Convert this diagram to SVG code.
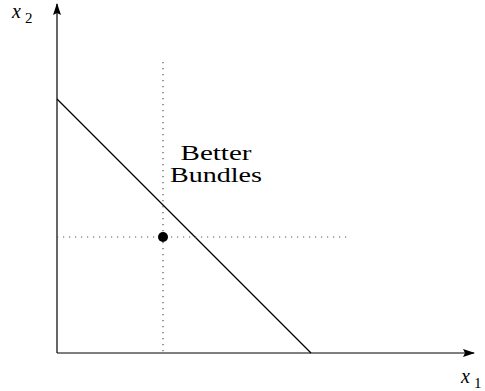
<svg xmlns="http://www.w3.org/2000/svg" width="485" height="391" viewBox="0 0 485 391">
<style>
.ax{stroke:#000;stroke-width:1.2;fill:none}
.dot{stroke:#555;stroke-width:1.2;stroke-dasharray:1.2 4.8;fill:none}
text{font-family:"Liberation Serif","DejaVu Serif",serif;fill:#000}
.m{font-style:italic}
</style>
<defs>
<marker id="ah" viewBox="0 0 12 8" refX="11" refY="4" markerWidth="12" markerHeight="8" markerUnits="userSpaceOnUse" orient="auto">
<path d="M0,0 L12,4 L0,8 L2,4 Z" fill="#000"/>
</marker>
</defs>
<g id="connectors">
<line class="ax" x1="57" y1="353" x2="57" y2="4" marker-end="url(#ah)"/>
<line class="ax" x1="57" y1="353" x2="474" y2="353" marker-end="url(#ah)"/>
<line class="ax" x1="57" y1="99" x2="311" y2="353"/>
<line class="dot" x1="163" y1="62" x2="163" y2="353"/>
<line class="dot" x1="57" y1="237" x2="350" y2="237"/>
</g>
<g id="bundle">
<circle cx="163" cy="237" r="5" fill="#000"/>
</g>
<g id="better-label">
<text x="216" y="160" font-size="20" text-anchor="middle" textLength="71" lengthAdjust="spacingAndGlyphs">Better</text>
<text x="216" y="182" font-size="20" text-anchor="middle" textLength="92" lengthAdjust="spacingAndGlyphs">Bundles</text>
</g>
<g id="x2-label">
<text class="m" x="12" y="18" font-size="20">x</text>
<text x="25" y="23" font-size="15">2</text>
</g>
<g id="x1-label">
<text class="m" x="461" y="383" font-size="20">x</text>
<text x="474" y="388" font-size="15">1</text>
</g>
</svg>
